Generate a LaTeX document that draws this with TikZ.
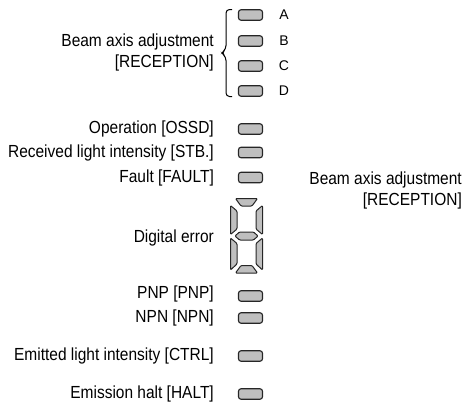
\documentclass[tikz,border=0pt]{standalone}
\usepackage{fontspec}
\setmainfont{Liberation Sans}[FakeStretch=0.885]
\newfontfamily\letterfont{Liberation Sans}
\begin{document}
\begin{tikzpicture}[x=1pt,y=-1pt,
  led/.style={draw=black!85, fill=gray!50, line width=1.1pt, rounded corners=2.5pt,
    minimum width=24pt, minimum height=10.5pt, inner sep=0pt},
  lbl/.style={anchor=base east, inner sep=0pt, font=\fontsize{17.5}{20}\selectfont},
  letter/.style={anchor=center, inner sep=0pt, font=\letterfont\fontsize{14}{16}\selectfont},
  seg/.style={draw=black!85, fill=gray!50, line width=1pt, rounded corners=1pt, line join=round},
  bracepath/.style={draw=black, line width=1pt, rounded corners=3.5pt}]
\useasboundingbox (0,0) rectangle (469,405);

% LEDs
\node[led] (ledA) at (250.5,15) {};
\node[led] (ledB) at (250.5,41) {};
\node[led] (ledC) at (250.5,66) {};
\node[led] (ledD) at (250.5,91) {};
\node[led] (ledOSSD) at (250.5,129) {};
\node[led] (ledSTB) at (250.5,152.5) {};
\node[led] (ledFAULT) at (250.5,177.5) {};
\node[led] (ledPNP) at (250.5,296) {};
\node[led] (ledNPN) at (250.5,318) {};
\node[led] (ledCTRL) at (250.5,356) {};
\node[led] (ledHALT) at (250.5,394) {};

% letters
\node[letter] (lA) at (284,15) {A};
\node[letter] (lB) at (284,41) {B};
\node[letter] (lC) at (284,66) {C};
\node[letter] (lD) at (284,91) {D};

% brace
\path[bracepath] (232,9.5) -- (226,9.5) -- (226,49) -- (221.5,53) -- (226,57) -- (226,96.5) -- (232,96.5);

% seven-segment digit
\filldraw[seg] (235.5,198.5) -- (257.5,198.5) -- (252,206) -- (241,206) -- cycle;
\filldraw[seg] (230.5,205.5) -- (237,211) -- (237,229) -- (230.5,234.5) -- cycle;
\filldraw[seg] (262.5,205.5) -- (256,211) -- (256,229) -- (262.5,234.5) -- cycle;
\filldraw[seg] (235,236) -- (239.5,232) -- (253.5,232) -- (258,236) -- (253.5,240) -- (239.5,240) -- cycle;
\filldraw[seg] (230.5,238) -- (237,243.5) -- (237,264) -- (230.5,270) -- cycle;
\filldraw[seg] (262.5,238) -- (256,243.5) -- (256,264) -- (262.5,270) -- cycle;
\filldraw[seg] (241,265.5) -- (252,265.5) -- (257.5,273) -- (235.5,273) -- cycle;

% labels
\node[lbl] (t1a) at (214,46) {Beam axis adjustment};
\node[lbl] (t1b) at (214,67.5) {[RECEPTION]};
\node[lbl] (t2) at (214,133) {Operation [OSSD]};
\node[lbl] (t3) at (214,157) {Received light intensity [STB.]};
\node[lbl] (t4) at (214,182) {Fault [FAULT]};
\node[lbl] (t5) at (214,242) {Digital error};
\node[lbl] (t6) at (214,298.5) {PNP [PNP]};
\node[lbl] (t7) at (214,322) {NPN [NPN]};
\node[lbl] (t8) at (214,360) {Emitted light intensity [CTRL]};
\node[lbl] (t9) at (214,398) {Emission halt [HALT]};
\node[lbl] (r1) at (462,184) {Beam axis adjustment};
\node[lbl] (r2) at (462,205.5) {[RECEPTION]};
\end{tikzpicture}
\end{document}
